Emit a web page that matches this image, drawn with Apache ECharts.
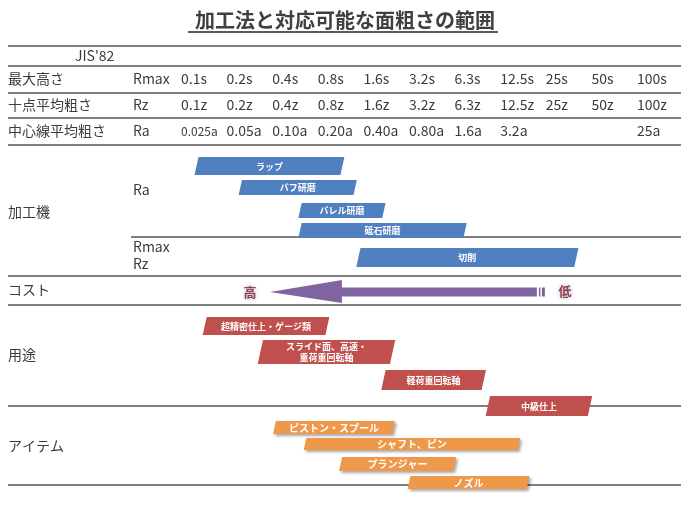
<!DOCTYPE html>
<html><head><meta charset="utf-8">
<script src="https://cdn.jsdelivr.net/npm/echarts@6/dist/echarts.min.js"></script>
<style>html,body{margin:0;padding:0;background:#fff}#c{width:690px;height:526px}</style>
</head><body><div id="c"></div>
<script>
// ---- data ----
const rmaxLabels = ['0.1s','0.2s','0.4s','0.8s','1.6s','3.2s','6.3s','12.5s','25s','50s','100s'];
const rzLabels   = ['0.1z','0.2z','0.4z','0.8z','1.6z','3.2z','6.3z','12.5z','25z','50z','100z'];
const raLabels   = ['0.025a','0.05a','0.10a','0.20a','0.40a','0.80a','1.6a','3.2a','','','25a'];

// ranges in column units of the roughness scale (0 = 0.1s, 10 = 100s)
const machineNames = ['ラップ','バフ研磨','バレル研磨','砥石研磨','切削'];
const machineStart = [0.34, 1.30, 2.61, 2.61, 3.89];
const machineEnd   = [3.54, 3.82, 4.45, 6.23, 8.67];

const usageNames = ['超精密仕上・ゲージ類','スライド面、高速・\n重荷重回転軸','軽荷重回転軸','中級仕上'];
const usageStart = [0.52, 1.74, 4.44, 6.73];
const usageEnd   = [3.21, 4.64, 6.64, 8.97];

const itemNames = ['ピストン・スプール','シャフト、ピン','プランジャー','ノズル'];
const itemStart = [2.05, 2.72, 3.50, 5.00];
const itemEnd   = [4.66, 7.41, 6.00, 7.61];

const costRange = [1.95, 7.98]; // 高 (tip) -> 低 (tail)

// ---- layout (pixel rows) ----
const machineRows = [[157,175],[180,195],[203,218],[223,238],[248,267]];
const usageRows   = [[317,335],[340,364],[370,390],[396,416]];
const itemRows    = [[421,434],[438,450],[457,471],[476,489]];
const tableRowY   = [79, 105, 131];
const costY = 292;

const FONT = '"Noto Sans CJK JP","Noto Sans",sans-serif';
const TXT = '#3b3b3b';
const LINE = '#7f7f7f';

function barSeries(names, starts, ends, rows, color, fontSize, shadow) {
  return {
    type: 'custom', coordinateSystem: 'cartesian2d', clip: false, silent: true,
    data: names.map((n, i) => [starts[i], ends[i]]),
    renderItem: (params, api) => {
      const i = params.dataIndex;
      const [y0, y1] = rows[i];
      const a = api.coord([api.value(0), y0]);
      const b = api.coord([api.value(1), y1]);
      const top = a[1], bot = b[1];
      const h = bot - top, sk = h * 0.11;
      const xl = a[0], xr = b[0];
      const style = { fill: color };
      if (shadow) Object.assign(style, { shadowBlur: 3, shadowOffsetX: 2, shadowOffsetY: 2, shadowColor: 'rgba(0,0,0,0.35)' });
      return { type: 'group', children: [
        { type: 'polygon', shape: { points: [[xl + sk, top], [xr + sk, top], [xr - sk, bot], [xl - sk, bot]] }, style },
        { type: 'text', style: { text: names[i], x: (xl + xr) / 2, y: (top + bot) / 2 + 0.5, align: 'center', verticalAlign: 'middle',
          fill: '#fff', fontSize, fontWeight: 'bold', fontFamily: FONT, lineHeight: fontSize + 2 } }
      ]};
    }
  };
}

function tableSeries(labels, rowIdx, fontFirst) {
  return {
    type: 'custom', coordinateSystem: 'cartesian2d', clip: false, silent: true,
    data: labels.map((l, i) => [i]),
    renderItem: (params, api) => {
      const i = params.dataIndex;
      const p = api.coord([api.value(0), tableRowY[rowIdx]]);
      return { type: 'text', style: { text: labels[i], x: p[0], y: p[1], align: 'left', verticalAlign: 'middle',
        fill: TXT, fontSize: (fontFirst && i === 0) ? fontFirst : 14, fontFamily: FONT } };
    }
  };
}

const costSeries = {
  type: 'custom', coordinateSystem: 'cartesian2d', clip: false, silent: true,
  data: [costRange],
  renderItem: (params, api) => {
    const tip = api.coord([api.value(0), costY]);
    const tail = api.coord([api.value(1), costY]);
    const y = tip[1], x0 = tip[0], x1 = tail[0];
    const headBase = x0 + 72;
    const col = '#8064A2';
    return { type: 'group', children: [
      { type: 'polygon', shape: { points: [[x0, y], [headBase, y - 12], [headBase, y - 4.5], [x1 - 8, y - 4.5], [x1 - 8, y + 4.5], [headBase, y + 4.5], [headBase, y + 11]] }, style: { fill: col } },
      { type: 'rect', shape: { x: x1 - 6, y: y - 4.5, width: 1.5, height: 9 }, style: { fill: col } },
      { type: 'rect', shape: { x: x1 - 3, y: y - 4.5, width: 3, height: 9 }, style: { fill: col } },
      { type: 'text', style: { text: '高', x: x0 - 20, y: y, align: 'center', verticalAlign: 'middle', fill: '#9B3B3B', fontSize: 13, fontWeight: 'bold', fontFamily: FONT,
        textShadowColor: '#8fb8e8', textShadowBlur: 4 } },
      { type: 'text', style: { text: '低', x: x1 + 20, y: y - 1, align: 'center', verticalAlign: 'middle', fill: '#9B3B3B', fontSize: 13, fontWeight: 'bold', fontFamily: FONT,
        textShadowColor: '#8fb8e8', textShadowBlur: 4 } }
    ]};
  }
};

function hline(y, x1, x2) {
  return { type: 'line', shape: { x1: x1, y1: y, x2: x2, y2: y }, style: { stroke: LINE, lineWidth: 2 }, silent: true };
}
function txt(t, x, y, size, extra) {
  return { type: 'text', style: Object.assign({ text: t, x: x, y: y, fill: TXT, fontSize: size || 14, fontFamily: FONT, verticalAlign: 'middle' }, extra || {}), silent: true };
}

const chart = echarts.init(document.getElementById('c'), null, { renderer: 'canvas' });
chart.setOption({
  animation: false,
  backgroundColor: '#fff',
  grid: { left: 181, right: 53, top: 0, bottom: 0 },
  xAxis: { type: 'value', min: 0, max: 10, show: false },
  yAxis: { type: 'value', min: 0, max: 526, inverse: true, show: false },
  graphic: [
    { type: 'text', style: { text: '加工法と対応可能な面粗さの範囲', x: 345, y: 20, align: 'center', verticalAlign: 'middle',
      fill: '#404040', fontSize: 20, fontWeight: 'bold', fontFamily: FONT } },
    { type: 'line', shape: { x1: 188, y1: 32, x2: 498, y2: 32 }, style: { stroke: '#5a5a5a', lineWidth: 2 } },
    hline(46, 8, 681), hline(66, 8, 681), hline(93, 8, 681), hline(118, 8, 681), hline(145, 8, 681),
    hline(237, 131, 681), hline(276, 8, 681), hline(305, 8, 681), hline(406, 8, 681), hline(485, 8, 681),
    txt("JIS'82", 75, 56, 14),
    txt('最大高さ', 8, 79), txt('Rmax', 133, 79),
    txt('十点平均粗さ', 8, 105), txt('Rz', 133, 105),
    txt('中心線平均粗さ', 8, 131), txt('Ra', 133, 131),
    txt('加工機', 8, 212), txt('Ra', 133, 190), txt('Rmax', 133, 247), txt('Rz', 133, 264),
    txt('コスト', 8, 290), txt('用途', 8, 355), txt('アイテム', 8, 446)
  ],
  series: [
    tableSeries(rmaxLabels, 0),
    tableSeries(rzLabels, 1),
    tableSeries(raLabels, 2, 12),
    barSeries(machineNames, machineStart, machineEnd, machineRows, '#5080BF', 9, false),
    costSeries,
    barSeries(usageNames, usageStart, usageEnd, usageRows, '#C0504D', 9, false),
    barSeries(itemNames, itemStart, itemEnd, itemRows, '#F0984A', 10, true)
  ]
});
</script></body></html>
